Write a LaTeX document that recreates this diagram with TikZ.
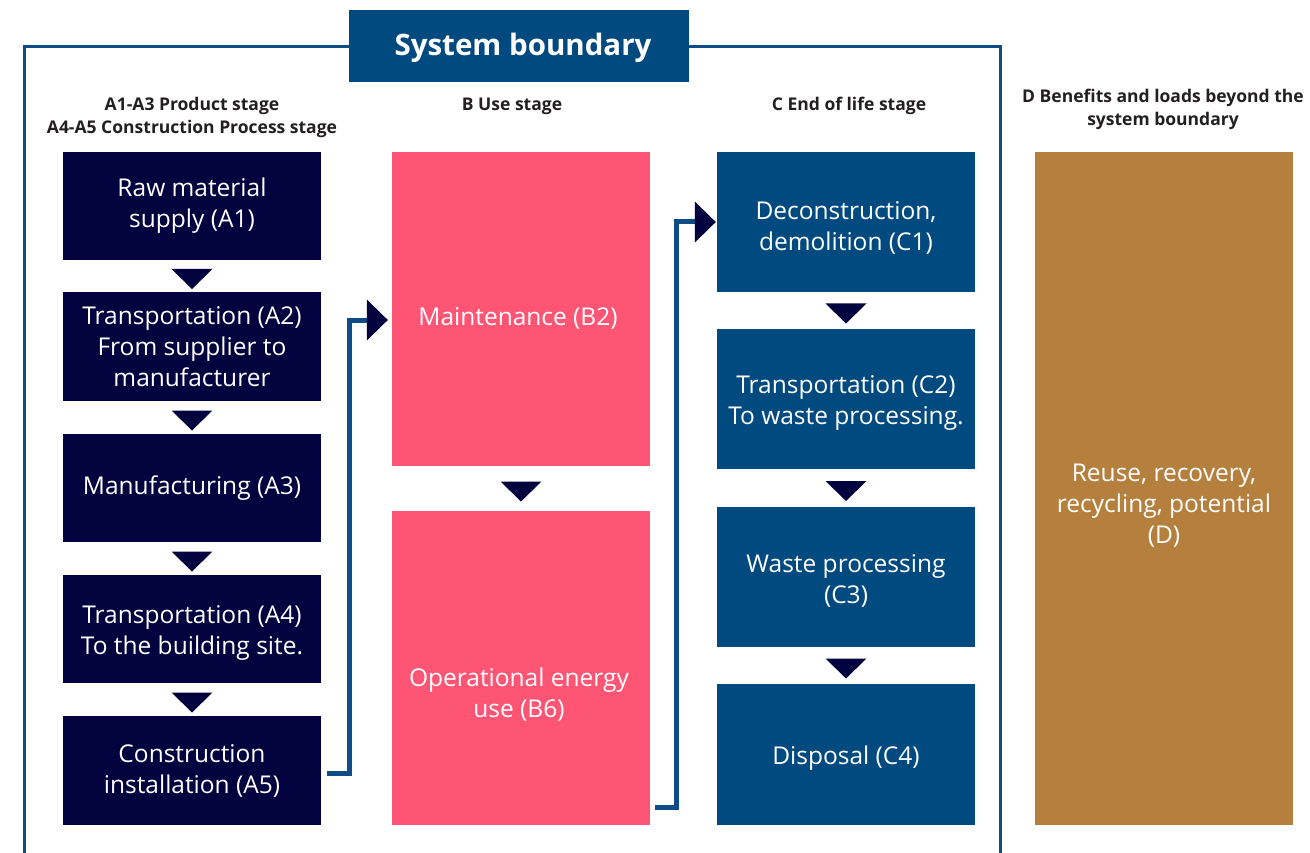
\documentclass[tikz,border=0pt]{standalone}
\usepackage{fontspec}
\setmainfont{Open Sans}
\usetikzlibrary{calc}
\definecolor{navy}{HTML}{02023F}
\definecolor{pinkb}{HTML}{FF5575}
\definecolor{cblue}{HTML}{004A80}
\definecolor{goldb}{HTML}{B5803E}
\definecolor{framec}{HTML}{0F4C86}
\definecolor{headc}{HTML}{231F20}
\begin{document}
\begin{tikzpicture}[x=1pt,y=-1pt,
  box/.style={rectangle,inner sep=0pt,minimum width=258pt,text=white,align=center,
    font=\fontsize{24.5}{31}\selectfont},
  abox/.style={box,fill=navy},
  bbox/.style={box,fill=pinkb},
  cbox/.style={box,fill=cblue},
  dbox/.style={box,fill=goldb},
  btext/.style={text=white,align=center,inner sep=0pt,font=\fontsize{24.5}{31}\selectfont},
  head/.style={text=headc,align=center,inner sep=0pt,font=\fontsize{17.5}{23}\selectfont\bfseries},
  tri/.style={fill=navy},
  conn/.style={draw=framec,line width=5pt},
  frame/.style={draw=framec,line width=3pt}]
\useasboundingbox (0,0) rectangle (1310,853);
\clip (0,0) rectangle (1310,853);
% frame
\draw[frame] (349,47) -- (24,47) -- (24,870);
\draw[frame] (689,47) -- (1000,47) -- (1000,870);
\node[rectangle,fill=cblue,minimum width=340pt,minimum height=72pt,inner sep=0pt] (title) at (519,46) {};
\node[text=white,inner sep=0pt,font=\fontsize{29.5}{36}\selectfont\bfseries] (titlet) at (523,48) {System boundary};
% headers
\node[head] (hA) at (192,117) {A1-A3 Product stage\\A4-A5 Construction Process stage};
\node[head] (hB) at (512,106) {B Use stage};
\node[head] (hC) at (849,106) {C End of life stage};
\node[head] (hD) at (1163,109) {D Benefits and loads beyond the\\system boundary};
% A column
\node[abox,minimum height=108pt] (A1) at (192,206) {Raw material\\supply (A1)};
\node[abox,minimum height=109pt] (A2) at (192,346.5) {Transportation (A2)\\From supplier to\\manufacturer};
\node[abox,minimum height=108pt] (A3) at (192,488) {Manufacturing (A3)};
\node[abox,minimum height=108pt] (A4) at (192,629) {};
\node[btext] (A4t) at (192,633) {Transportation (A4)\\To the building site.};
\node[abox,minimum height=109pt] (A5) at (192,770.5) {Construction\\installation (A5)};
% B column
\node[bbox,minimum height=314pt] (B2) at (521,309) {};
\node[btext] (B2t) at (518,318) {Maintenance (B2)};
\node[bbox,minimum height=314pt] (B6) at (521,668) {};
\node[btext] (B6t) at (519,695) {Operational energy\\use (B6)};
% C column
\node[cbox,minimum height=140pt] (C1) at (846,222) {};
\node[btext] (C1t) at (846,228) {Deconstruction,\\demolition (C1)};
\node[cbox,minimum height=140pt] (C2) at (846,399) {};
\node[btext] (C2t) at (846,402.5) {Transportation (C2)\\To waste processing.};
\node[cbox,minimum height=140pt] (C3) at (846,577) {};
\node[btext] (C3t) at (846,580.5) {Waste processing\\(C3)};
\node[cbox,minimum height=141pt] (C4) at (846,754.5) {};
\node[btext] (C4t) at (846,758) {Disposal (C4)};
% D column
\node[dbox,minimum height=673pt] (D) at (1164,488.5) {};
\node[btext] (Dt) at (1164,506) {Reuse, recovery,\\recycling, potential\\(D)};
% down triangles
\foreach \u/\l in {A1/A2,A2/A3,A3/A4,A4/A5,B2/B6,C1/C2,C2/C3,C3/C4}{
  \fill[tri] ($(\u.south)!0.5!(\l.north)$) ++(-20.5,-7) -- ++(41,0) -- ++(-20.5,20) -- cycle;
}
% connectors
\coordinate (s1) at ([shift={(6,2.5)}]A5.east);
\coordinate (t1) at ([shift={(-4,11)}]B2.west);
\draw[conn] (s1) -- (s1 -| 349,0) -- (349,0 |- t1) -- ([xshift=-20]t1);
\fill[tri] (t1) -- ++(-21,-20.5) -- ++(0,41) -- cycle;
\coordinate (s2) at ([shift={(5,139)}]B6.east);
\coordinate (t2) at ([shift={(-1,0)}]C1.west);
\draw[conn] (s2) -- (s2 -| 676,0) -- (676,0 |- t2) -- ([xshift=-20]t2);
\fill[tri] (t2) -- ++(-21,-20.5) -- ++(0,41) -- cycle;
\end{tikzpicture}
\end{document}
